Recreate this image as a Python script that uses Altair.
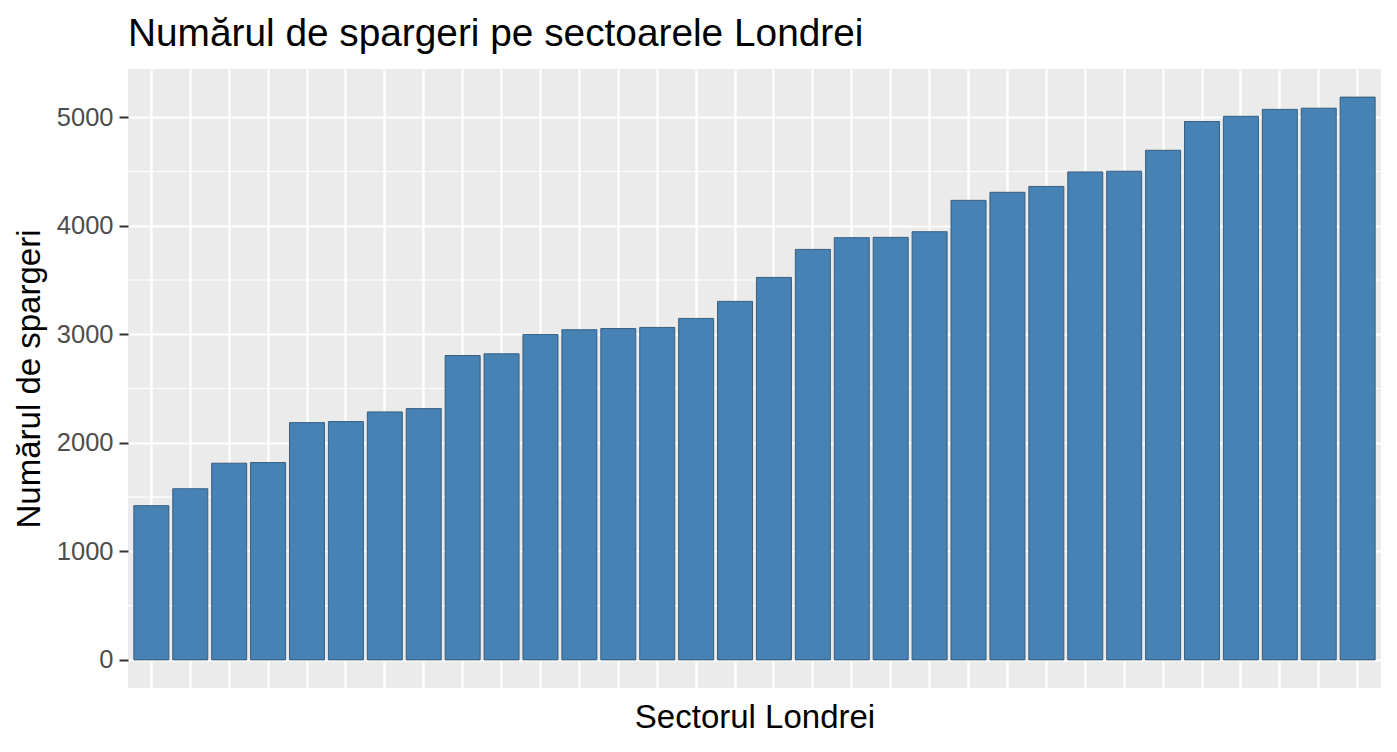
import altair as alt
import pandas as pd

sectors = [
    "Sector 01", "Sector 02", "Sector 03", "Sector 04", "Sector 05", "Sector 06", "Sector 07", "Sector 08",
    "Sector 09", "Sector 10", "Sector 11", "Sector 12", "Sector 13", "Sector 14", "Sector 15", "Sector 16",
    "Sector 17", "Sector 18", "Sector 19", "Sector 20", "Sector 21", "Sector 22", "Sector 23", "Sector 24",
    "Sector 25", "Sector 26", "Sector 27", "Sector 28", "Sector 29", "Sector 30", "Sector 31", "Sector 32",
]
burglaries = [
    1421, 1577, 1812, 1818, 2186, 2196, 2285, 2315,
    2804, 2820, 2998, 3042, 3053, 3063, 3146, 3303,
    3524, 3782, 3890, 3893, 3945, 4234, 4308, 4362,
    4496, 4502, 4695, 4960, 5008, 5072, 5083, 5185,
]
y_ticks = [0, 1000, 2000, 3000, 4000, 5000]
y_minor = [500, 1500, 2500, 3500, 4500]

df = pd.DataFrame({"sector": sectors, "n": burglaries})
minor_df = pd.DataFrame({"v": y_minor})

FONT = "Liberation Sans"
y_scale = alt.Scale(domain=[-259, 5444], nice=False, zero=False)

bars = alt.Chart(df).mark_bar(
    color="#4682B4", stroke="#2f5678", strokeWidth=0.9
).encode(
    x=alt.X(
        "sector:N",
        sort=None,
        scale=alt.Scale(paddingInner=0.1, paddingOuter=0.15),
        axis=alt.Axis(
            title="Sectorul Londrei",
            labels=False,
            ticks=False,
            domain=False,
            grid=True,
            gridColor="white",
            gridWidth=2.2,
            bandPosition=0.5,
            titleFont=FONT,
            titleFontSize=33,
            titleFontWeight="normal",
            titleColor="black",
            titlePadding=13,
        ),
    ),
    y=alt.Y(
        "n:Q",
        scale=y_scale,
        axis=alt.Axis(
            title="Numărul de spargeri",
            values=y_ticks,
            format="d",
            domain=False,
            grid=True,
            gridColor="white",
            gridWidth=2.2,
            tickColor="#333333",
            tickWidth=2,
            tickSize=9,
            labelFont=FONT,
            labelFontSize=25.5,
            labelColor="#4D4D4D",
            labelPadding=6,
            titleFont=FONT,
            titleFontSize=33,
            titleFontWeight="normal",
            titleColor="black",
            titlePadding=10,
        ),
    ),
)

minor = alt.Chart(minor_df).mark_rule(color="white", strokeWidth=1.1).encode(
    y=alt.Y("v:Q", scale=y_scale)
)

chart = alt.layer(minor, bars).properties(
    width=1253,
    height=619,
    background="white",
    title=alt.TitleParams(
        "Numărul de spargeri pe sectoarele Londrei",
        anchor="start",
        frame="group",
        font=FONT,
        fontSize=38.8,
        fontWeight="normal",
        color="black",
        offset=15,
    ),
    autosize=alt.AutoSizeParams(type="none"),
    padding={"left": 120, "top": 61, "right": 8, "bottom": 56},
).configure_view(
    fill="#EBEBEB", stroke=None
)

chart.save("out.html", embed_options={"renderer": "svg", "actions": False})
